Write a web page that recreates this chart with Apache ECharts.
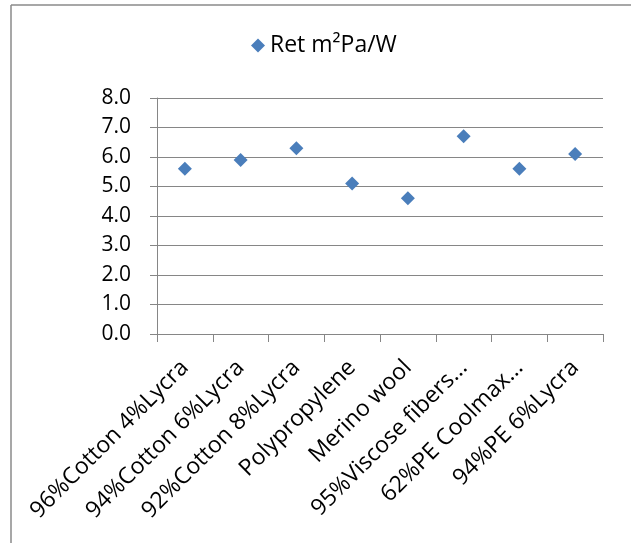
<!DOCTYPE html>
<html>
<head>
<meta charset="utf-8">
<script src="https://cdn.jsdelivr.net/npm/echarts@6/dist/echarts.min.js"></script>
<style>
html,body{margin:0;padding:0;background:#fff;}
#chart{width:631px;height:543px;}
</style>
</head>
<body>
<div id="chart"></div>
<script>
var categories = ['96%Cotton 4%Lycra','94%Cotton 6%Lycra','92%Cotton 8%Lycra','Polypropylene','Merino wool','95%Viscose fibers...','62%PE Coolmax...','94%PE 6%Lycra'];
var seriesName = 'Ret m²Pa/W';
var retValues = [5.6, 5.9, 6.3, 5.1, 4.6, 6.7, 5.6, 6.1];
var yMin = 0, yMax = 8, yStep = 1;

var FONT = '"Open Sans", "Liberation Sans", sans-serif';
var chart = echarts.init(document.getElementById('chart'), null, {renderer:'canvas'});
chart.setOption({
  animation: false,
  backgroundColor: '#ffffff',
  textStyle: {fontFamily: FONT},
  graphic: [
    {type:'line', shape:{x1:11, y1:5, x2:640, y2:5}, style:{stroke:'#8a8a8a', lineWidth:1.5}},
    {type:'line', shape:{x1:11, y1:5, x2:11, y2:560}, style:{stroke:'#8a8a8a', lineWidth:1.5}}
  ],
  legend: {
    data: [{name: seriesName, icon: 'diamond'}],
    left: 246, top: 29,
    itemWidth: 14, itemHeight: 14, itemGap: 6,
    textStyle: {fontFamily: FONT, fontSize: 23, color:'#000'}
  },
  grid: {left: 157, right: 28, top: 98, bottom: 209, containLabel: false},
  xAxis: {
    type: 'category',
    data: categories,
    boundaryGap: true,
    axisLine: {show: true, lineStyle: {color:'#868686', width:1}},
    axisTick: {show: true, length: 8, alignWithLabel: false, lineStyle:{color:'#868686'}},
    axisLabel: {rotate: 45, interval: 0, margin: 30, fontFamily: FONT, fontSize: 23, color:'#000'},
    splitLine: {show: false}
  },
  yAxis: {
    type: 'value',
    min: yMin, max: yMax, interval: yStep,
    axisLine: {show: true, lineStyle: {color:'#868686', width:1}},
    axisTick: {show: true, length: 7, lineStyle:{color:'#868686'}},
    axisLabel: {margin: 26, fontFamily: FONT, fontSize: 21, color:'#000', formatter: function(v){return v.toFixed(1);}},
    splitLine: {show: true, lineStyle: {color:'#868686', width:1}}
  },
  series: [{
    name: seriesName,
    type: 'line',
    data: retValues,
    symbol: 'diamond',
    symbolSize: 14,
    lineStyle: {width: 0, opacity: 0},
    itemStyle: {color: '#4a7ebb'}
  }]
});
</script>
</body>
</html>
